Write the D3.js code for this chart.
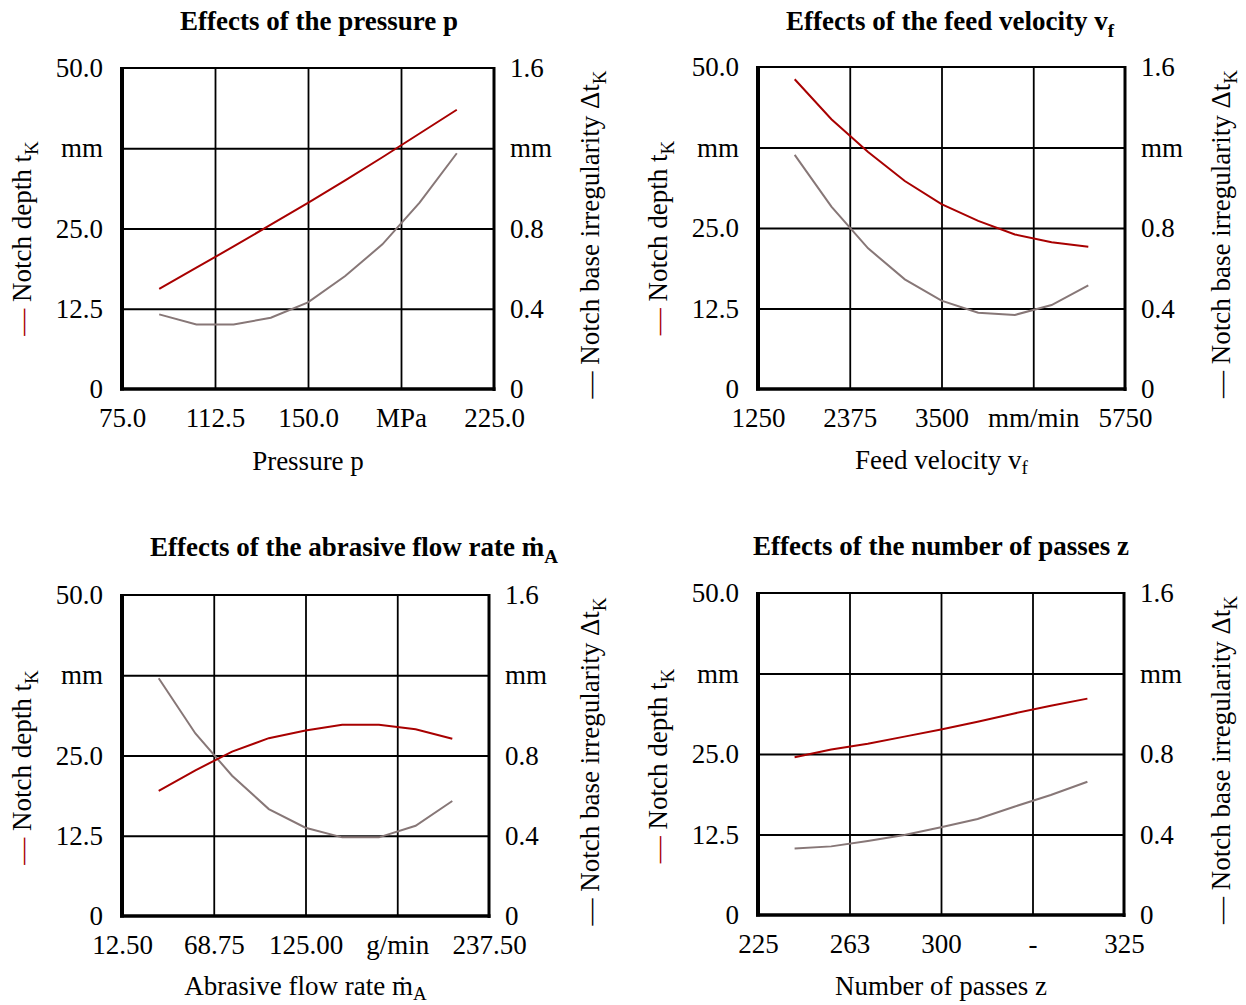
<!DOCTYPE html>
<html>
<head>
<meta charset="utf-8">
<script src="https://cdn.jsdelivr.net/npm/d3@7"></script>
<style>
  html, body { margin: 0; padding: 0; background: #fff; }
  svg text { font-family: "Liberation Serif", "Times New Roman", "DejaVu Serif", serif; fill: #000; }
</style>
</head>
<body>
<svg id="chart" width="1246" height="1005"></svg>
<script>
// ---------- DATA ----------
const pressure = [90, 105, 120, 135, 150, 165, 180, 195, 210];
const depthPressure = [15.6, 18.9, 22.2, 25.6, 29.0, 32.5, 36.1, 39.8, 43.5];
const irregPressure = [0.372, 0.322, 0.322, 0.355, 0.432, 0.563, 0.721, 0.929, 1.175];

const feed = [1700, 2150, 2600, 3050, 3500, 3950, 4400, 4850, 5300];
const depthFeed = [48.1, 41.9, 36.8, 32.3, 28.7, 26.1, 24.0, 22.8, 22.1];
const irregFeed = [1.163, 0.906, 0.699, 0.545, 0.439, 0.379, 0.368, 0.417, 0.515];

const abrasive = [35, 57.5, 80, 102.5, 125, 147.5, 170, 192.5, 215];
const depthAbrasive = [19.5, 22.7, 25.6, 27.7, 28.9, 29.8, 29.8, 29.1, 27.6];
const irregAbrasive = [1.185, 0.910, 0.699, 0.533, 0.440, 0.392, 0.392, 0.450, 0.573];

const passes = [240, 255, 270, 285, 300, 315, 330, 345, 360];
const depthPasses = [24.5, 25.7, 26.6, 27.7, 28.8, 30.0, 31.3, 32.5, 33.6];
const irregPasses = [0.331, 0.341, 0.368, 0.398, 0.436, 0.477, 0.538, 0.596, 0.662];

const leftTickValues = [0, 12.5, 25, 37.5, 50];
const leftTickLabels = ["0", "12.5", "25.0", "mm", "50.0"];
const rightTickValues = [0, 0.4, 0.8, 1.2, 1.6];
const rightTickLabels = ["0", "0.4", "0.8", "mm", "1.6"];

const pressureTicks = [75, 112.5, 150, 187.5, 225];
const pressureLabels = ["75.0", "112.5", "150.0", "MPa", "225.0"];
const feedTicks = [1250, 2375, 3500, 4625, 5750];
const feedLabels = ["1250", "2375", "3500", "mm/min", "5750"];
const abrasiveTicks = [12.5, 68.75, 125, 181.25, 237.5];
const abrasiveLabels = ["12.50", "68.75", "125.00", "g/min", "237.50"];
const passesTicks = [225, 262.5, 300, 337.5, 375];
const passesLabels = ["225", "263", "300", "-", "325"];

// ---------- LAYOUT ----------
const RED = "#a80000";
const GRAY = "#877777";
const FS = 27;

const panels = [
  { title: ["Effects of the pressure p", ""], titleX: 319, titleY: 30,
    x0: 122, x1: 494, y0: 68, y1: 389,
    xs: pressure, red: depthPressure, gray: irregPressure,
    xTicks: pressureTicks, xLabels: pressureLabels,
    xTitle: ["Pressure p", ""], xTitleDy: 81, leftTitleX: 31, rightTitleX: 599, ltShift: 10, rtShift: 6 },
  { title: ["Effects of the feed velocity v", "f"], titleX: 950, titleY: 30,
    x0: 758, x1: 1125, y0: 67, y1: 389,
    xs: feed, red: depthFeed, gray: irregFeed,
    xTicks: feedTicks, xLabels: feedLabels,
    xTitle: ["Feed velocity v", "f"], xTitleDy: 80, leftTitleX: 667, rightTitleX: 1230, ltShift: 10, rtShift: 6 },
  { title: ["Effects of the abrasive flow rate \u1E41", "A"], titleX: 354, titleY: 556,
    x0: 122, x1: 489, y0: 595, y1: 916,
    xs: abrasive, red: depthAbrasive, gray: irregAbrasive,
    xTicks: abrasiveTicks, xLabels: abrasiveLabels,
    xTitle: ["Abrasive flow rate \u1E41", "A"], xTitleDy: 79, leftTitleX: 31, rightTitleX: 599, ltShift: 12, rtShift: 6 },
  { title: ["Effects of the number of passes z", ""], titleX: 941, titleY: 555,
    x0: 758, x1: 1124, y0: 593, y1: 915,
    xs: passes, red: depthPasses, gray: irregPasses,
    xTicks: passesTicks, xLabels: passesLabels,
    xTitle: ["Number of passes z", ""], xTitleDy: 80, leftTitleX: 667, rightTitleX: 1230, ltShift: 12, rtShift: 6 }
];

const svg = d3.select("#chart");

function addTextWithSub(sel, main, sub, dy) {
  sel.append("tspan").text(main);
  if (sub) sel.append("tspan").attr("dy", dy || 7).attr("font-size", 19).text(sub);
}

panels.forEach(p => {
  const g = svg.append("g");
  const x = d3.scaleLinear().domain([p.xTicks[0], p.xTicks[4]]).range([p.x0, p.x1]);
  const yL = d3.scaleLinear().domain([0, 50]).range([p.y1, p.y0]);
  const yR = d3.scaleLinear().domain([0, 1.6]).range([p.y1, p.y0]);
  const h = p.y1 - p.y0, w = p.x1 - p.x0;

  // vertical grid
  g.append("g").attr("transform", `translate(0,${p.y1})`)
    .call(d3.axisBottom(x).tickValues(p.xTicks.slice(1, 4)).tickSize(-h).tickFormat(""))
    .call(s => s.select(".domain").remove())
    .call(s => s.selectAll("line").attr("stroke", "#000").attr("stroke-width", 1.8));
  // horizontal grid
  g.append("g").attr("transform", `translate(${p.x0},0)`)
    .call(d3.axisLeft(yL).tickValues(leftTickValues.slice(1, 4)).tickSize(-w).tickFormat(""))
    .call(s => s.select(".domain").remove())
    .call(s => s.selectAll("line").attr("stroke", "#000").attr("stroke-width", 1.8));

  // frame
  g.append("line").attr("x1", p.x0).attr("x2", p.x1).attr("y1", p.y0).attr("y2", p.y0)
    .attr("stroke", "#000").attr("stroke-width", 2.2);
  g.append("line").attr("x1", p.x1).attr("x2", p.x1).attr("y1", p.y0 - 1).attr("y2", p.y1 + 2)
    .attr("stroke", "#000").attr("stroke-width", 3);
  g.append("line").attr("x1", p.x0 - 2).attr("x2", p.x1 + 1.5).attr("y1", p.y1).attr("y2", p.y1)
    .attr("stroke", "#000").attr("stroke-width", 3.5);
  g.append("line").attr("x1", p.x0).attr("x2", p.x0).attr("y1", p.y0 - 1).attr("y2", p.y1 + 1.5)
    .attr("stroke", "#000").attr("stroke-width", 4);

  // left tick labels
  g.append("g").attr("transform", `translate(${p.x0 - 8},0)`)
    .call(d3.axisLeft(yL).tickValues(leftTickValues).tickSize(0).tickPadding(11)
      .tickFormat((d, i) => leftTickLabels[i]))
    .call(s => s.select(".domain").remove())
    .call(s => s.selectAll("text").attr("font-size", FS).attr("fill", "#000")
      .attr("font-family", "Liberation Serif, serif"));
  // right tick labels
  g.append("g").attr("transform", `translate(${p.x1 + 4},0)`)
    .call(d3.axisRight(yR).tickValues(rightTickValues).tickSize(0).tickPadding(12)
      .tickFormat((d, i) => rightTickLabels[i]))
    .call(s => s.select(".domain").remove())
    .call(s => s.selectAll("text").attr("font-size", FS).attr("fill", "#000")
      .attr("font-family", "Liberation Serif, serif"));
  // bottom tick labels
  g.append("g").attr("transform", `translate(0,${p.y1 + 12})`)
    .call(d3.axisBottom(x).tickValues(p.xTicks).tickSize(0).tickPadding(7)
      .tickFormat((d, i) => p.xLabels[i]))
    .call(s => s.select(".domain").remove())
    .call(s => s.selectAll("text").attr("font-size", FS).attr("fill", "#000")
      .attr("font-family", "Liberation Serif, serif"));

  // lines
  const lineL = d3.line().x((d, i) => x(p.xs[i])).y(d => yL(d));
  const lineR = d3.line().x((d, i) => x(p.xs[i])).y(d => yR(d));
  g.append("path").datum(p.gray).attr("d", lineR).attr("fill", "none")
    .attr("stroke", GRAY).attr("stroke-width", 2);
  g.append("path").datum(p.red).attr("d", lineL).attr("fill", "none")
    .attr("stroke", RED).attr("stroke-width", 2);

  // title
  const t = g.append("text").attr("x", p.titleX).attr("y", p.titleY)
    .attr("text-anchor", "middle").attr("font-size", FS).attr("font-weight", "bold");
  addTextWithSub(t, p.title[0], p.title[1]);

  // x title
  const xt = g.append("text").attr("x", (p.x0 + p.x1) / 2).attr("y", p.y1 + p.xTitleDy)
    .attr("text-anchor", "middle").attr("font-size", FS);
  addTextWithSub(xt, p.xTitle[0], p.xTitle[1], 5);

  // left y title
  const cy = (p.y0 + p.y1) / 2;
  const lt = g.append("text").attr("transform", `translate(${p.leftTitleX},${cy + p.ltShift}) rotate(-90)`)
    .attr("text-anchor", "middle").attr("font-size", FS);
  lt.append("tspan").style("fill", RED).attr("fill", RED).text("\u2014 ");
  addTextWithSub(lt, "Notch depth t", "K");

  // right y title
  const rt = g.append("text").attr("transform", `translate(${p.rightTitleX},${cy + p.rtShift}) rotate(-90)`)
    .attr("text-anchor", "middle").attr("font-size", FS);
  rt.append("tspan").text("\u2014 ");
  addTextWithSub(rt, "Notch base irregularity \u0394t", "K");
});
</script>
</body>
</html>
